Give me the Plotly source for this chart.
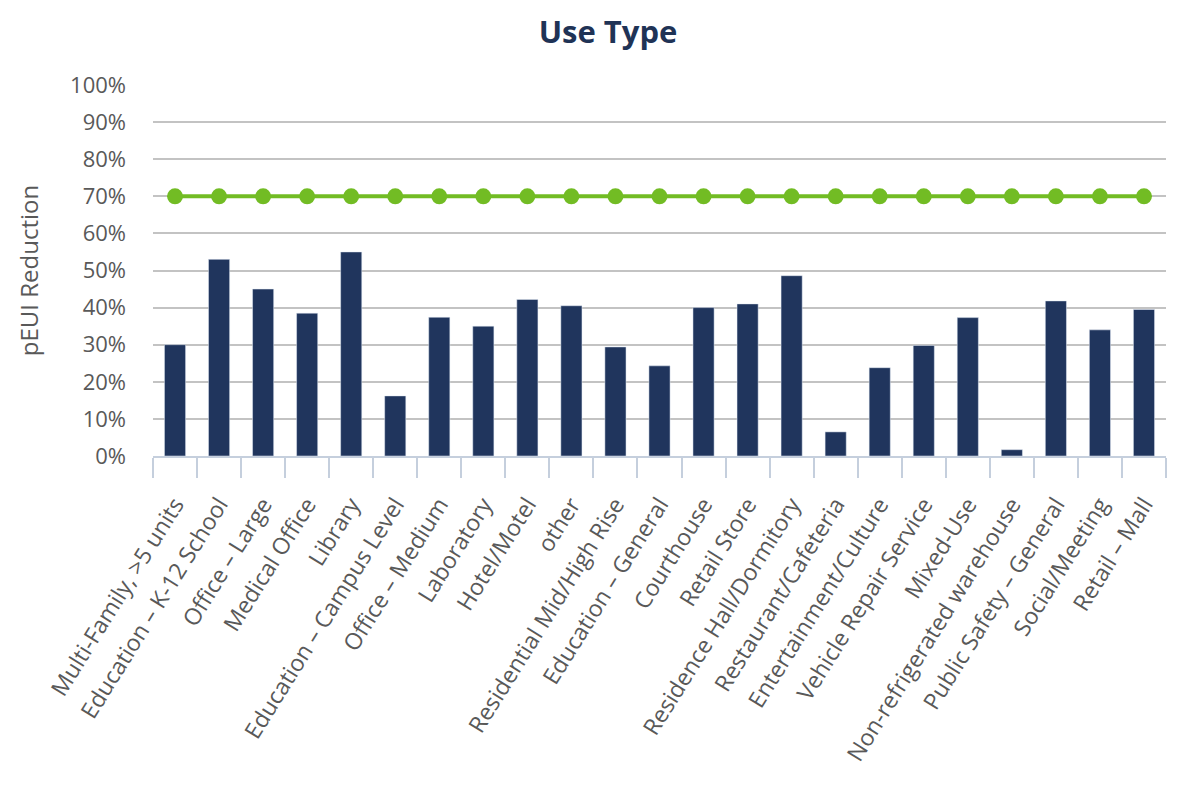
import plotly.graph_objects as go

# Use types and their pEUI reduction (fractions)
use_types = [
    "Multi-Family, >5 units", "Education – K-12 School", "Office – Large",
    "Medical Office", "Library", "Education – Campus Level", "Office – Medium",
    "Laboratory", "Hotel/Motel", "other", "Residential Mid/High Rise",
    "Education – General", "Courthouse", "Retail Store",
    "Residence Hall/Dormitory", "Restaurant/Cafeteria", "Entertainment/Culture",
    "Vehicle Repair Service", "Mixed-Use", "Non-refrigerated warehouse",
    "Public Safety – General", "Social/Meeting", "Retail – Mall",
]
peui_reduction = [
    0.300, 0.530, 0.450, 0.385, 0.550, 0.162, 0.374, 0.350, 0.422, 0.405,
    0.294, 0.243, 0.400, 0.410, 0.486, 0.065, 0.238, 0.298, 0.373, 0.017,
    0.418, 0.340, 0.395,
]
target = [0.70] * len(use_types)

FONT = "Open Sans"
GRAY = "#595959"

fig = go.Figure()
fig.add_trace(go.Bar(
    x=use_types, y=peui_reduction,
    marker={'color': '#20355d'},
    showlegend=False,
))
fig.add_trace(go.Scatter(
    x=use_types, y=target,
    mode="lines+markers",
    line={'color': '#72bc24', 'width': 4},
    marker={'color': '#72bc24', 'size': 16},
    showlegend=False,
))

fig.update_layout(
    width=1200, height=800,
    margin={'l': 145, 'r': 42, 't': 77, 'b': 352},
    plot_bgcolor="white", paper_bgcolor="white",
    bargap=0.52,
    font={'family': FONT, 'color': GRAY, 'size': 19},
    title={
        'text': "<b>Use Type</b>", 'x': 0.5, 'xanchor': 'center',
        'y': 0.97, 'yanchor': 'middle',
        'font': {'family': FONT, 'size': 31, 'color': '#1f3356'},
    },
)
fig.update_yaxes(
    range=[0, 1.0], dtick=0.1, tickformat=".0%",
    showgrid=True, gridcolor="#c3c3c3", gridwidth=1.5,
    zeroline=False, showline=False, automargin=False,
    ticklabelstandoff=26,
    tickfont={'size': 22, 'color': GRAY},
    title={'text': "pEUI Reduction", 'font': {'size': 24, 'color': GRAY}, 'standoff': 24},
)
fig.update_xaxes(
    range=[-0.5, len(use_types) - 0.5], automargin=False,
    showline=True, linecolor="#c5cfdd", linewidth=2,
    ticks="outside", tickson="boundaries", ticklen=20, tickcolor="#c5cfdd", tickwidth=1.5,
    tickangle=-58, ticklabelstandoff=24,
    tickfont={'size': 23, 'color': GRAY},
)

fig.write_html("out.html")
